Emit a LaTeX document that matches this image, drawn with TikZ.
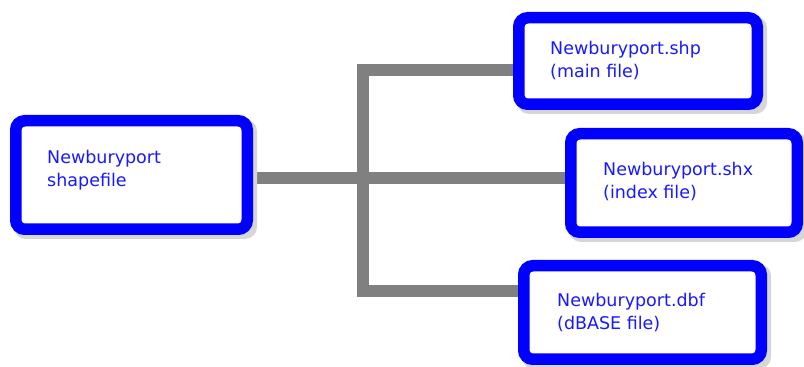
\documentclass[tikz,border=0pt]{standalone}
\usepackage{fontspec}
\setmainfont{DejaVu Sans}
\usetikzlibrary{backgrounds}
\begin{document}
\begin{tikzpicture}[x=1pt,y=1pt,
  filebox/.style={draw=blue, fill=white, line width=11.5pt, rounded corners=9pt,
    rectangle, inner sep=0pt, outer sep=0pt},
  boxshadow/.style={fill=black!16, rounded corners=12pt},
  lbl/.style={text=blue!90!white, font=\fontsize{17.5}{23}\selectfont, align=left,
    inner sep=0pt, anchor=base west},
  link/.style={draw=black!50, line width=12pt, line join=miter, line cap=butt}]
\useasboundingbox (0,0) rectangle (804,367);
% shadows
\fill[boxshadow] (14,128) rectangle (257,248);
\fill[boxshadow] (517,253) rectangle (767,351);
\fill[boxshadow] (569,125) rectangle (807,235);
\fill[boxshadow] (522,-2) rectangle (771,103);
% boxes
\node[filebox, minimum width=231.5pt, minimum height=108.5pt] (L) at (131.5,192) {};
\node[filebox, minimum width=238.5pt, minimum height=86.5pt] (A) at (638,306) {};
\node[filebox, minimum width=226.5pt, minimum height=98.5pt] (B) at (684,184) {};
\node[filebox, minimum width=237.5pt, minimum height=93.5pt] (C) at (642.5,54.5) {};
% labels (base anchor = last line)
\node[lbl] (Lt) at (47,180) {Newburyport\\shapefile};
\node[lbl] (At) at (550,289) {Newburyport.shp\\(main file)};
\node[lbl] (Bt) at (603,168) {Newburyport.shx\\(index file)};
\node[lbl] (Ct) at (557,37) {Newburyport.dbf\\(dBASE file)};
% connectors
\coordinate (J) at (363,189);
\begin{scope}[on background layer]
\draw[link] (L.east |- J) -- (B.west |- J);
\draw[link] (A.west |- 0,297) -- (363,297) -- (363,76) -- (C.west |- 0,76);
\end{scope}
\end{tikzpicture}
\end{document}
